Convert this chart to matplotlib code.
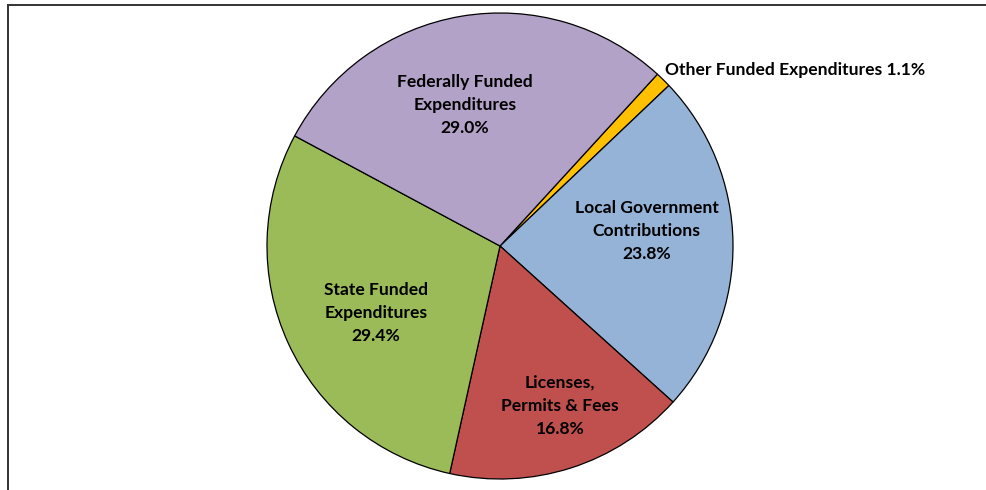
import matplotlib.pyplot as plt
from matplotlib.lines import Line2D

# slice data, clockwise from the top-right
labels = ['Other Funded Expenditures', 'Local Government\nContributions',
          'Licenses,\nPermits & Fees', 'State Funded\nExpenditures',
          'Federally Funded\nExpenditures']
shares = [1.1, 23.8, 16.8, 29.4, 29.0]
colors = ['#FFC000', '#95B3D7', '#C0504D', '#9BBB59', '#B2A2C7']

# where each label goes (data units, pie radius = 1)
label_xy = [(0.708, 0.755), (0.63, 0.064), (0.257, -0.687),
            (-0.532, -0.288), (-0.15, 0.605)]

W, H = 987, 490
cx, cy, r = 500, 246, 233

plt.rcParams['font.family'] = ['Lato', 'DejaVu Sans']
fig = plt.figure(figsize=(W / 100, H / 100), dpi=100)
ax = fig.add_axes([(cx - r) / W, (H - cy - r) / H, 2 * r / W, 2 * r / H])

ax.pie(shares, colors=colors, startangle=47.5, counterclock=False, radius=1,
       wedgeprops=dict(edgecolor='black', linewidth=0.9))
ax.set_xlim(-1, 1)
ax.set_ylim(-1, 1)
ax.axis('off')

for i, (lab, val) in enumerate(zip(labels, shares)):
    x, y = label_xy[i]
    if i == 0:
        ax.text(x, y, f'{lab} {val:.1f}%', ha='left', va='center',
                fontsize=12.6, fontweight='bold', clip_on=False)
    else:
        ax.text(x, y, f'{lab}\n{val:.1f}%', ha='center', va='center',
                fontsize=12.6, fontweight='bold', linespacing=1.55)

# chart frame (top and left edges visible)
fig.add_artist(Line2D([8 / W, 1], [1 - 5 / H, 1 - 5 / H], color='#333333',
                      linewidth=1.4, transform=fig.transFigure))
fig.add_artist(Line2D([8 / W, 8 / W], [0, 1 - 5 / H], color='#333333',
                      linewidth=1.4, transform=fig.transFigure))

fig.savefig('out.png', dpi=100)
